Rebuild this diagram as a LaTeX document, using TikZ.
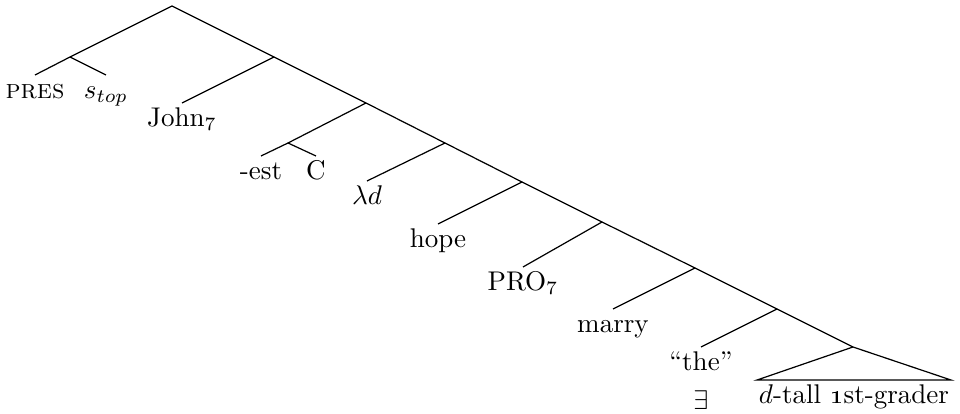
\documentclass[tikz,border=0pt]{standalone}
\usepackage{amsmath}
\usepackage{amssymb}
\usetikzlibrary{positioning,calc}
\tikzset{
    leaf/.style={
        anchor=north,
        inner sep=2pt,
        text height=1.5ex,
        text depth=.25ex,
    },
    branch/.style={
        draw=black,
        line width=0.45pt,
    },
}

\begin{document}
\begin{tikzpicture}[x=0.013cm,y=-0.013cm]
	    \useasboundingbox (0,0) rectangle (960,414);
	    \coordinate (top) at (172,6);
	    \coordinate (tp) at (70,57);
	    \coordinate (s1) at (274,57);
	    \coordinate (s2) at (366,103);
	    \coordinate (cp) at (288,143);
	    \coordinate (s3) at (445,143);
	    \coordinate (s4) at (522,182);
	    \coordinate (s5) at (602,222);
	    \coordinate (s6) at (695,268);
	    \coordinate (s7) at (777,309);
	    \coordinate (s8) at (853,347);
	    \node [leaf] (pres) at (35,75) {\textsc{pres}};
	    \node [leaf] (stop) at (106,75) {$s_{top}$};
	    \node [leaf] (john) at (182,103) {John$_7$};
	    \node [leaf] (est) at (261,156) {-est};
	    \node [leaf] (C) at (316,156) {C};
	    \node [leaf] (lam) at (367,181) {$\lambda d$};
	    \node [leaf] (hope) at (438,224) {hope};
	    \node [leaf] (pro) at (523,267) {PRO$_7$};
	    \node [leaf] (marry) at (613,309) {marry};
	    \node [leaf] (the) at (701,347) {``the''};
	    \node [leaf] (ex) [below=2.5pt of the] {$\exists$};
	    \node [leaf,inner xsep=0.5pt] (np) at (854,380) {$d$-tall \oldstylenums{1}st-grader};
	    \path[branch] (top) edge (tp) edge (s1);
	    \path[branch] (tp) edge (pres.north) edge (stop.north);
	    \path[branch] (s1) edge (john.north) edge (s2);
	    \path[branch] (s2) edge (cp) edge (s3);
	    \path[branch] (cp) edge (est.north) edge (C.north);
	    \path[branch] (s3) edge (lam.north) edge (s4);
	    \path[branch] (s4) edge (hope.north) edge (s5);
	    \path[branch] (s5) edge (pro.north) edge (s6);
	    \path[branch] (s6) edge (marry.north) edge (s7);
	    \path[branch] (s7) edge (the.north) edge (s8);
	    \draw[branch] (s8) -- (np.north west) -- (np.north east) -- cycle;
	\end{tikzpicture}
\end{document}
